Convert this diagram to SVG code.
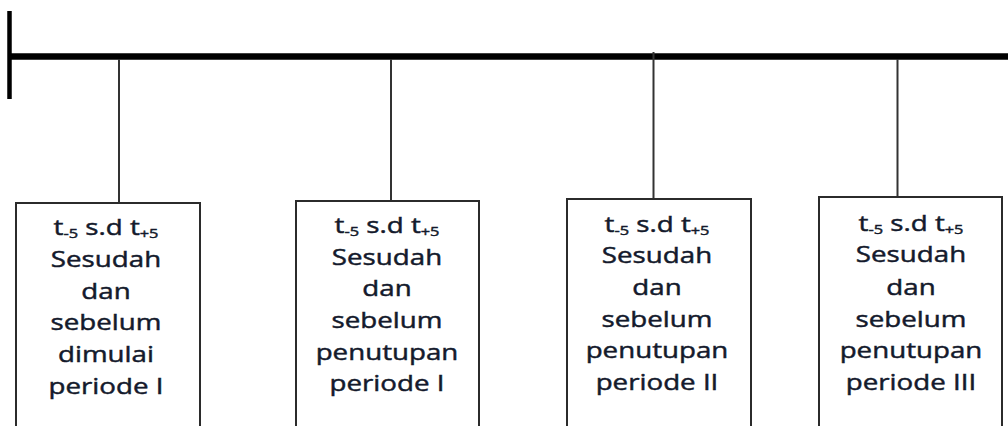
<svg xmlns="http://www.w3.org/2000/svg" width="1008" height="426" viewBox="0 0 1008 426">
<style>
.box{fill:#fff;stroke:#2b2b2b;stroke-width:2}
.con{stroke:#333;stroke-width:2;fill:none}
.lbl{font-family:"Open Sans","Noto Sans",sans-serif;font-size:22px;fill:#141a2c;stroke:#141a2c;stroke-width:0.45;text-anchor:middle}
.sub{font-size:13px}
</style>
<rect width="1008" height="426" fill="#fff"/>
<g id="timeline">
<line x1="8" y1="56.5" x2="1008" y2="56.5" stroke="#000" stroke-width="6.5"/>
<line x1="9.5" y1="11" x2="9.5" y2="99" stroke="#000" stroke-width="4.5"/>
</g>
<g id="connectors">
<line class="con" x1="119" y1="59" x2="119" y2="203"/>
<line class="con" x1="391" y1="59" x2="391" y2="201"/>
<line class="con" x1="653.5" y1="52" x2="653.5" y2="199"/>
<line class="con" x1="897.5" y1="59" x2="897.5" y2="197"/>
</g>
<g id="node1">
<rect class="box" x="16" y="203" width="184" height="240"/>
<g transform="translate(106,0) scale(1.26,1)">
<text class="lbl" x="0" y="235">t<tspan class="sub" dy="3">-5</tspan><tspan dy="-3"> s.d t</tspan><tspan class="sub" dy="3">+5</tspan></text>
<text class="lbl" x="0" y="267">Sesudah</text>
<text class="lbl" x="0" y="299">dan</text>
<text class="lbl" x="0" y="330.5">sebelum</text>
<text class="lbl" x="0" y="362.5">dimulai</text>
<text class="lbl" x="0" y="394">periode I</text>
</g>
</g>
<g id="node2">
<rect class="box" x="296" y="201" width="183" height="240"/>
<g transform="translate(387,0) scale(1.26,1)">
<text class="lbl" x="0" y="233">t<tspan class="sub" dy="3">-5</tspan><tspan dy="-3"> s.d t</tspan><tspan class="sub" dy="3">+5</tspan></text>
<text class="lbl" x="0" y="265">Sesudah</text>
<text class="lbl" x="0" y="296.5">dan</text>
<text class="lbl" x="0" y="328">sebelum</text>
<text class="lbl" x="0" y="360">penutupan</text>
<text class="lbl" x="0" y="391.5">periode I</text>
</g>
</g>
<g id="node3">
<rect class="box" x="567" y="199" width="184" height="240"/>
<g transform="translate(657,0) scale(1.26,1)">
<text class="lbl" x="0" y="232">t<tspan class="sub" dy="3">-5</tspan><tspan dy="-3"> s.d t</tspan><tspan class="sub" dy="3">+5</tspan></text>
<text class="lbl" x="0" y="263.5">Sesudah</text>
<text class="lbl" x="0" y="295">dan</text>
<text class="lbl" x="0" y="327">sebelum</text>
<text class="lbl" x="0" y="358.5">penutupan</text>
<text class="lbl" x="0" y="390.5">periode II</text>
</g>
</g>
<g id="node4">
<rect class="box" x="819" y="197" width="183" height="240"/>
<g transform="translate(911,0) scale(1.26,1)">
<text class="lbl" x="0" y="231">t<tspan class="sub" dy="3">-5</tspan><tspan dy="-3"> s.d t</tspan><tspan class="sub" dy="3">+5</tspan></text>
<text class="lbl" x="0" y="262.5">Sesudah</text>
<text class="lbl" x="0" y="295">dan</text>
<text class="lbl" x="0" y="327">sebelum</text>
<text class="lbl" x="0" y="358.5">penutupan</text>
<text class="lbl" x="0" y="390.5">periode III</text>
</g>
</g>
</svg>
